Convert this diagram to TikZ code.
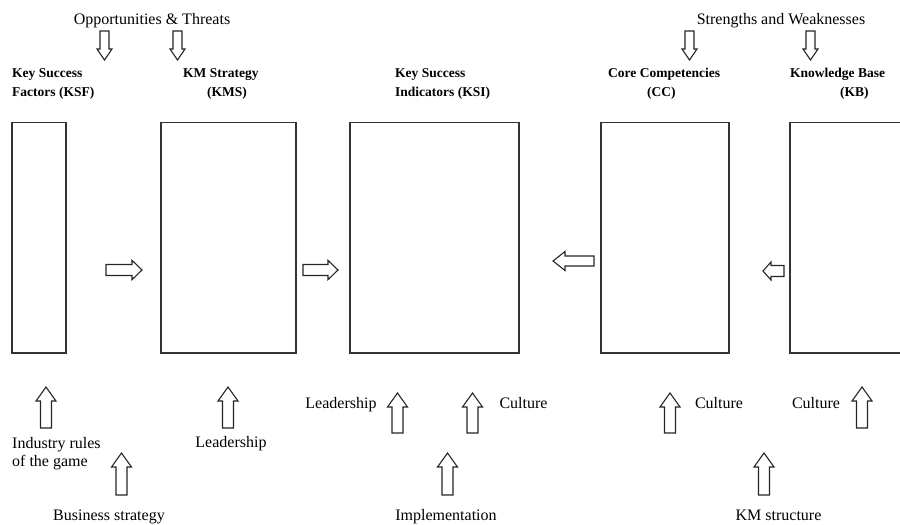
\documentclass[tikz,border=0pt]{standalone}
\usepackage{fontspec}
\setmainfont{Liberation Serif}
\tikzset{
  box/.style={draw=black!80, line width=1.3pt, inner sep=0pt, outer sep=0pt, anchor=north west},
  barr/.style={draw=black!85, line width=1.1pt, fill=white, line join=miter},
  lbl/.style={inner sep=0pt, font=\fontsize{16}{18}\selectfont},
  blbl/.style={inner sep=0pt, font=\fontsize{13.5}{19}\selectfont\bfseries, align=left, anchor=north west},
}
% #1 x, #2 y (tail centre), #3 angle, #4 length, #5 body half, #6 head half, #7 head length
\newcommand\BArrow[7]{\draw[barr,shift={(#1,#2)},rotate=#3] (0,-#5) -- ({#4-#7},-#5) -- ({#4-#7},-#6) -- (#4,0) -- ({#4-#7},#6) -- ({#4-#7},#5) -- (0,#5) -- cycle;}
\begin{document}
\begin{tikzpicture}[x=1pt,y=-1pt]
\useasboundingbox (0,0) rectangle (900,525);
\clip (0,0) rectangle (900,525);
% boxes
\node[box, minimum width=54pt,  minimum height=230.5pt] (ksf) at (12,122.5) {};
\node[box, minimum width=135pt, minimum height=230.5pt] (kms) at (161,122.5) {};
\node[box, minimum width=169pt, minimum height=230.5pt] (ksi) at (350,122.5) {};
\node[box, minimum width=128pt, minimum height=230.5pt] (cc)  at (601,122.5) {};
\node[box, minimum width=130pt, minimum height=230.5pt] (kb)  at (790,122.5) {};
% top labels
\node[lbl, anchor=base] (ot) at (152,24) {Opportunities \& Threats};
\node[lbl, anchor=base] (sw) at (781,24) {Strengths and Weaknesses};
\node[blbl] (ksfl) at (12,68) {Key Success\\Factors (KSF)};
\node[blbl] (kmsl) at (183,68) {KM Strategy\\\hspace*{24pt}(KMS)};
\node[blbl] (ksil) at (395,68) {Key Success\\Indicators (KSI)};
\node[blbl] (ccl)  at (608,68) {Core Competencies\\\hspace*{39pt}(CC)};
\node[blbl] (kbl)  at (790,68) {Knowledge Base\\\hspace*{50pt}(KB)};
% bottom labels
\node[lbl, align=left, anchor=north west] (ir) at (12,437) {Industry rules\\of the game};
\node[lbl, anchor=base] (bs)  at (109,520.6) {Business strategy};
\node[lbl, anchor=base] (ld1) at (231,447.6) {Leadership};
\node[lbl, anchor=base] (ld2) at (341,408.6) {Leadership};
\node[lbl, anchor=base] (cu1) at (523.5,408.6) {Culture};
\node[lbl, anchor=base] (im)  at (446,520.6) {Implementation};
\node[lbl, anchor=base] (cu2) at (719,408.6) {Culture};
\node[lbl, anchor=base] (cu3) at (816,408.6) {Culture};
\node[lbl, anchor=base] (kmst) at (778.5,520.6) {KM structure};
% top down arrows
\BArrow{104.5}{31}{-90}{29}{4.5}{7.5}{11}
\BArrow{177.5}{31}{-90}{29}{4.5}{7.5}{11}
\BArrow{689.5}{31}{-90}{29}{4.5}{7.5}{11}
\BArrow{810.5}{31}{-90}{29}{4.5}{7.5}{11}
% horizontal arrows
\BArrow{106}{270}{0}{36}{5.5}{9.7}{10}
\BArrow{303}{270}{0}{35}{5.5}{9.7}{10}
\BArrow{594}{261}{180}{41}{5}{9.5}{12}
\BArrow{784}{271}{180}{21}{5.5}{9}{8}
% up arrows
\BArrow{46}{428}{90}{41}{5.5}{10}{14}
\BArrow{121.5}{495}{90}{42}{5.5}{10}{14}
\BArrow{228}{428}{90}{41}{5.5}{10}{14}
\BArrow{397.5}{433}{90}{40}{5.5}{10}{14}
\BArrow{472.5}{433}{90}{40}{5.5}{10}{14}
\BArrow{447.5}{495}{90}{42}{5.5}{10}{14}
\BArrow{670}{433}{90}{40}{5.5}{10}{14}
\BArrow{862}{428}{90}{41}{5.5}{10}{14}
\BArrow{764}{495}{90}{42}{5.5}{10}{14}
\end{tikzpicture}
\end{document}
